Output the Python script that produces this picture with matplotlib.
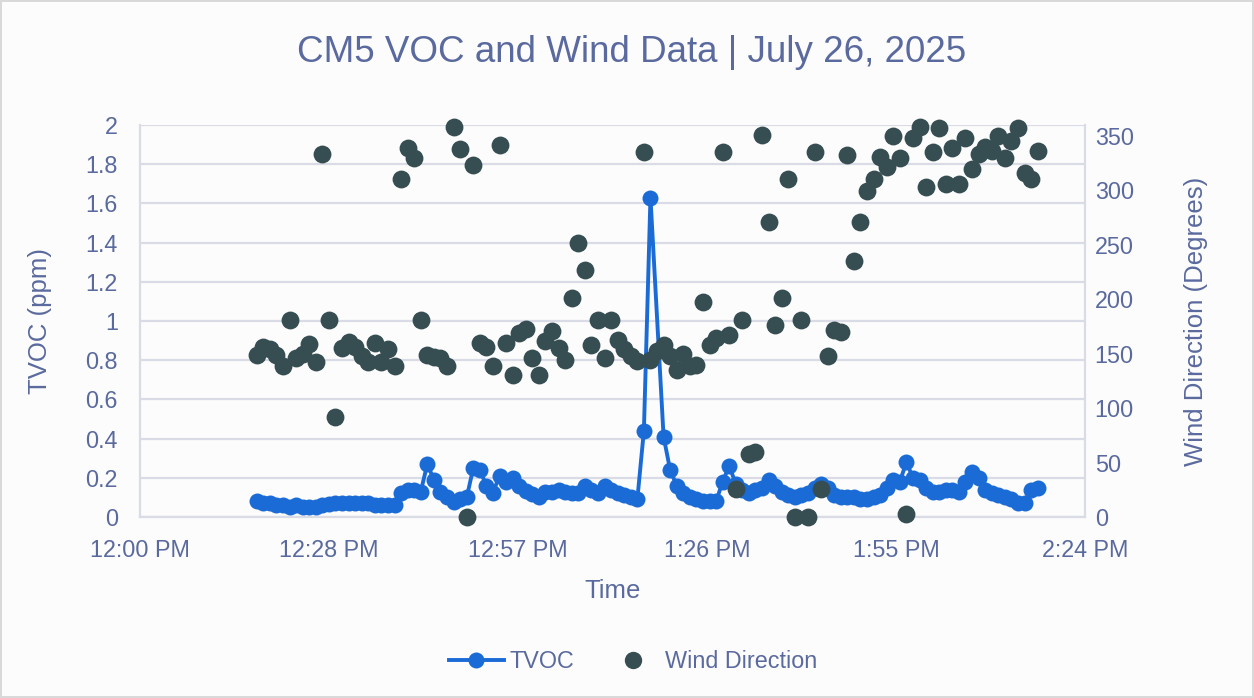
import numpy as np
import pandas as pd
import matplotlib
matplotlib.use("Agg")
import matplotlib.pyplot as plt
from matplotlib.lines import Line2D

plt.rcParams['font.family'] = ['Liberation Sans', 'DejaVu Sans']

# ---------------- data ----------------
title = "CM5 VOC and Wind Data | July 26, 2025"
start_time = "2025-07-26 12:17:47"
n_samples = 120

tvoc_ppm = [
    0.08, 0.07, 0.07, 0.06, 0.06, 0.05, 0.06, 0.05, 0.05, 0.05,
    0.06, 0.065, 0.07, 0.07, 0.07, 0.07, 0.07, 0.07, 0.06, 0.06,
    0.06, 0.06, 0.12, 0.14, 0.14, 0.13, 0.27, 0.19, 0.13, 0.10,
    0.075, 0.09, 0.10, 0.25, 0.24, 0.16, 0.125, 0.21, 0.18, 0.20,
    0.16, 0.135, 0.115, 0.10, 0.13, 0.13, 0.14, 0.13, 0.12, 0.12,
    0.16, 0.14, 0.12, 0.16, 0.14, 0.12, 0.11, 0.10, 0.09, 0.44,
    1.63, np.nan, 0.41, 0.24, 0.16, 0.12, 0.10, 0.09, 0.08, 0.08,
    0.08, 0.18, 0.26, 0.17, 0.14, 0.12, 0.14, 0.15, 0.19, 0.16,
    0.13, 0.11, 0.10, 0.11, 0.12, 0.15, 0.17, 0.15, 0.11, 0.10,
    0.10, 0.10, 0.09, 0.09, 0.10, 0.11, 0.15, 0.19, 0.18, 0.28,
    0.20, 0.19, 0.15, 0.13, 0.13, 0.14, 0.14, 0.13, 0.18, 0.23,
    0.20, 0.14, 0.12, 0.11, 0.10, 0.09, 0.07, 0.07, 0.14, 0.15,
]

wind_deg = [
    149, 156, 154, 149, 139, 181, 146, 150, 159, 142,
    333, 181, 92, 155, 161, 156, 148, 142, 160, 142,
    154, 139, 310, 339, 330, 181, 149, 147, 146, 139,
    358, 338, 0, 323, 160, 156, 139, 342, 160, 130,
    169, 173, 146, 130, 162, 171, 155, 144, 201, 252,
    227, 158, 181, 146, 181, 163, 154, 148, 143, 335,
    144, 152, 158, 148, 135, 150, 139, 140, 197, 158,
    164, 335, 167, 26, 181, 58, 60, 351, 271, 176,
    201, 310, 0, 181, 0, 335, 26, 148, 172, 170,
    332, 235, 271, 299, 310, 331, 321, 350, 330, 3,
    348, 358, 303, 335, 357, 306, 339, 306, 348, 320,
    333, 340, 336, 350, 330, 345, 357, 316, 310, 336,
]

x_start = "2025-07-26 12:00"
x_end = "2025-07-26 14:24"
x_tick_labels = ["12:00 PM", "12:28 PM", "12:57 PM", "1:26 PM", "1:55 PM", "2:24 PM"]
tvoc_ticks = [0, 0.2, 0.4, 0.6, 0.8, 1, 1.2, 1.4, 1.6, 1.8, 2]
tvoc_tick_labels = ["0", "0.2", "0.4", "0.6", "0.8", "1", "1.2", "1.4", "1.6", "1.8", "2"]
wind_ticks = [0, 50, 100, 150, 200, 250, 300, 350]

# ---------------- styling ----------------
TEXT = "#5a6a9e"
GRID = "#d9dbe7"
TVOC_C = "#1a6bd6"
WIND_C = "#364d52"
BG = "#fcfcfc"

times = pd.date_range(start_time, periods=n_samples, freq="min")
tv = pd.Series(tvoc_ppm, index=times).dropna()
wd = pd.Series(wind_deg, index=times)

fig = plt.figure(figsize=(12.54, 6.98), dpi=100, facecolor=BG)
fig.patch.set_edgecolor("#d9d9d9")
fig.patch.set_linewidth(1.5)

ax = fig.add_axes([140/1254, 1-517/698, (1085-140)/1254, (517-125)/698])
ax.set_facecolor(BG)
ax2 = ax.twinx()

ax.plot(tv.index, tv.values, color=TVOC_C, lw=2.8, marker='o', ms=11.5,
        markeredgewidth=0, zorder=3, clip_on=False)
ax2.scatter(wd.index, wd.values, s=165, color=WIND_C, linewidths=0, zorder=3,
            clip_on=False)

xs = pd.Timestamp(x_start)
xe = pd.Timestamp(x_end)
ax.set_xlim(xs, xe)
tick_pos = pd.date_range(xs, xe, periods=len(x_tick_labels))
ax.set_xticks(tick_pos)
ax.set_xticklabels(x_tick_labels)

ax.set_ylim(0, 2)
ax.set_yticks(tvoc_ticks)
ax.set_yticklabels(tvoc_tick_labels)
ax2.set_ylim(0, 360)
ax2.set_yticks(wind_ticks)
ax2.set_yticklabels([str(v) for v in wind_ticks])

ax.grid(axis='y', color=GRID, lw=1.6)
ax.set_axisbelow(True)

for a in (ax, ax2):
    a.tick_params(length=0, labelsize=16.8, labelcolor=TEXT)
    for s in a.spines.values():
        s.set_visible(False)
for name, a in (('left', ax), ('bottom', ax), ('right', ax2)):
    a.spines[name].set_visible(True)
    a.spines[name].set_color(GRID)
    a.spines[name].set_linewidth(1.6)

ax.tick_params(axis='y', pad=16)
ax.tick_params(axis='x', pad=16)
ax2.tick_params(axis='y', pad=7)

ax.set_xlabel("Time", fontsize=18.5, color=TEXT, labelpad=12)
ax.set_ylabel("TVOC (ppm)", fontsize=18.5, color=TEXT, labelpad=24)
ax2.set_ylabel("Wind Direction (Degrees)", fontsize=18.5, color=TEXT, labelpad=36)

fig.text(0.504, 1-53/698, title, ha='center', va='center', fontsize=26.5, color=TEXT)

handles = [
    Line2D([0], [0], color=TVOC_C, lw=2.8, marker='o', ms=11.5, markeredgewidth=0),
    Line2D([0], [0], color=WIND_C, lw=0, marker='o', ms=12.5, markeredgewidth=0),
]
fig.legend(handles, ["TVOC", "Wind Direction"], loc='center', bbox_to_anchor=(0.505, 1-662/698),
           ncol=2, frameon=False, fontsize=16.8, labelcolor=TEXT, handlelength=2.35,
           handletextpad=0.22, columnspacing=1.35)

fig.savefig("out.png", dpi=100, facecolor=BG, edgecolor=fig.patch.get_edgecolor())
